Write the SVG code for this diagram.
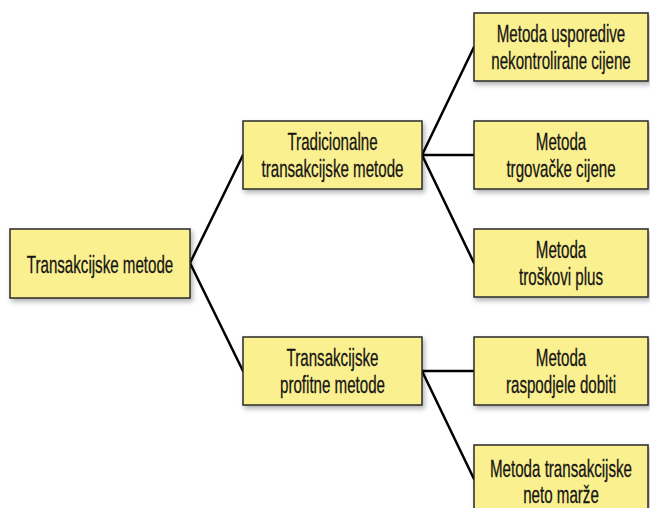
<svg xmlns="http://www.w3.org/2000/svg" width="650" height="508" viewBox="0 0 650 508">
<defs>
<filter id="sh" x="-10%" y="-10%" width="130%" height="140%">
<feDropShadow dx="2" dy="3" stdDeviation="2.5" flood-color="#000" flood-opacity="0.3"/>
</filter>
</defs>
<style>
.box{fill:#fbf08f;stroke:#2a2a2a;stroke-width:1.5;filter:url(#sh)}
.t{font-family:"Liberation Sans",Arial,sans-serif;font-size:24px;fill:#151515;text-anchor:middle;stroke:#151515;stroke-width:0.3}
.c{stroke:#000;stroke-width:2.5;fill:none;stroke-linecap:round}
</style>
<rect width="650" height="508" fill="#fff"/>
<g id="connectors">
<line class="c" x1="190" y1="263" x2="243" y2="155"/>
<line class="c" x1="190" y1="263" x2="243" y2="371"/>
<line class="c" x1="422" y1="155" x2="474" y2="47"/>
<line class="c" x1="422" y1="155" x2="474" y2="155"/>
<line class="c" x1="422" y1="155" x2="474" y2="263"/>
<line class="c" x1="422" y1="371" x2="474" y2="371"/>
<line class="c" x1="422" y1="371" x2="474" y2="479"/>
</g>
<g id="root">
<rect class="box" x="10" y="229" width="180" height="69"/>
<text class="t" transform="translate(100,273) scale(0.63,1)">Transakcijske metode</text>
</g>
<g id="tradicionalne">
<rect class="box" x="243" y="121" width="179" height="68"/>
<text class="t" transform="translate(332.5,150) scale(0.63,1)">Tradicionalne</text>
<text class="t" transform="translate(332.5,176.5) scale(0.63,1)">transakcijske metode</text>
</g>
<g id="profitne">
<rect class="box" x="243" y="337" width="179" height="68"/>
<text class="t" transform="translate(332.5,366) scale(0.63,1)">Transakcijske</text>
<text class="t" transform="translate(332.5,393) scale(0.63,1)">profitne metode</text>
</g>
<g id="usporedive">
<rect class="box" x="474" y="13" width="174" height="68"/>
<text class="t" transform="translate(561,42) scale(0.63,1)">Metoda usporedive</text>
<text class="t" transform="translate(561,68.5) scale(0.63,1)">nekontrolirane cijene</text>
</g>
<g id="trgovacke">
<rect class="box" x="474" y="121" width="174" height="68"/>
<text class="t" transform="translate(561,150) scale(0.63,1)">Metoda</text>
<text class="t" transform="translate(561,176.5) scale(0.63,1)">trgovačke cijene</text>
</g>
<g id="troskovi">
<rect class="box" x="474" y="229" width="174" height="68"/>
<text class="t" transform="translate(561,258) scale(0.63,1)">Metoda</text>
<text class="t" transform="translate(561,284.5) scale(0.63,1)">troškovi plus</text>
</g>
<g id="raspodjele">
<rect class="box" x="474" y="337" width="174" height="68"/>
<text class="t" transform="translate(561,366) scale(0.63,1)">Metoda</text>
<text class="t" transform="translate(561,392.5) scale(0.63,1)">raspodjele dobiti</text>
</g>
<g id="neto">
<rect class="box" x="474" y="445" width="174" height="68"/>
<text class="t" transform="translate(561,477) scale(0.63,1)">Metoda transakcijske</text>
<text class="t" transform="translate(561,503) scale(0.63,1)">neto marže</text>
</g>
</svg>
